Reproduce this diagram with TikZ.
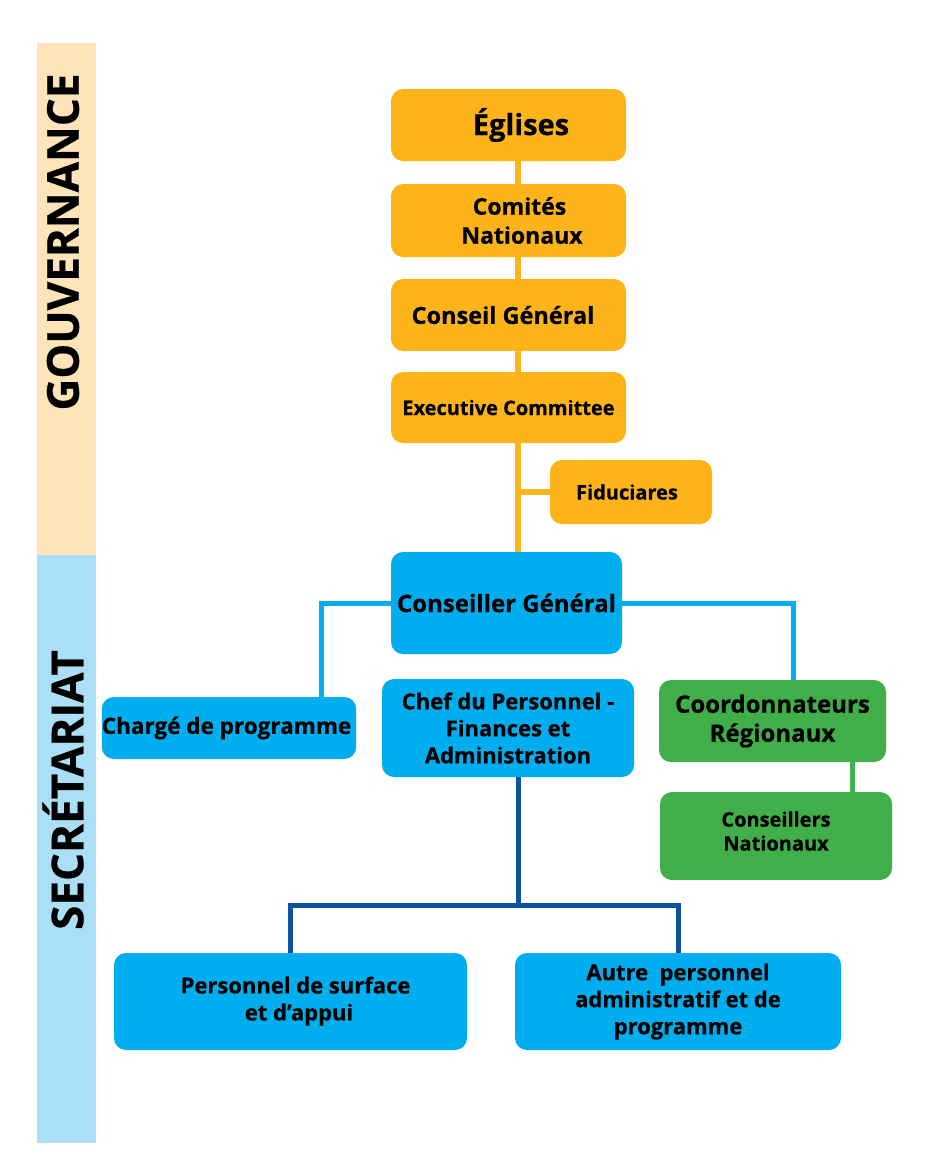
\documentclass[tikz,border=0pt]{standalone}
\usepackage{fontspec}
\setmainfont{Open Sans}[BoldFeatures={FakeBold=0.6}]
\usetikzlibrary{positioning}

\definecolor{govgold}{RGB}{253,180,26}
\definecolor{seccyan}{RGB}{0,174,239}
\definecolor{reggreen}{RGB}{64,174,73}
\definecolor{staffnavy}{RGB}{13,81,161}
\definecolor{govband}{RGB}{255,228,186}
\definecolor{secband}{RGB}{171,223,245}

\newcommand\fsz[2]{\fontsize{#1}{#2}\selectfont\bfseries}

\tikzset{
  unit/.style={rectangle, rounded corners=12pt, inner sep=0pt, align=center,
    font=\bfseries, text=black},
  govbox/.style={unit, fill=govgold},
  secbox/.style={unit, fill=seccyan},
  regbox/.style={unit, fill=reggreen},
  bandlabel/.style={rotate=90, font=\fsz{44}{44}},
  govline/.style={govgold, line width=6pt},
  secline/.style={seccyan, line width=5pt},
  regline/.style={reggreen, line width=5pt},
  staffline/.style={staffnavy, line width=5pt},
}

\begin{document}
\begin{tikzpicture}[x=1pt, y=-1pt]
    \useasboundingbox (0,0) rectangle (930,1168);

    % Bandes laterales
    \fill[govband] (37,43) rectangle (96,555);
    \fill[secband] (37,555) rectangle (96,1143);
    \node[bandlabel] (gouv) at (63,242) {GOUVERNANCE};
    \node[bandlabel] (secr) at (63,790) {SECRÉTARIAT};

    % Gouvernance
    \node[govbox, minimum width=235pt, minimum height=72pt, font=\fsz{29}{32}]
      (eglises) at (508.5,125) {\hspace*{25pt}Églises};
    \node[govbox, minimum width=235pt, minimum height=73pt, font=\fsz{23}{29}]
      (comites) at (508.5,220.5) {\hspace*{22pt}Comités\\\hspace*{27pt}Nationaux};
    \node[govbox, minimum width=235pt, minimum height=72pt, font=\fsz{23.5}{26}]
      (conseil) at (508.5,315) {Conseil Général\hspace*{11pt}};
    \node[govbox, minimum width=235pt, minimum height=71pt, font=\fsz{20}{22}]
      (exec) at (508.5,407.5) {Executive Committee};
    \node[govbox, minimum width=162pt, minimum height=64pt, font=\fsz{20}{22}]
      (fid) at (631,492) {Fiduciares\hspace*{8pt}};

    % Secretariat
    \node[secbox, minimum width=231pt, minimum height=102pt, font=\fsz{24}{26}]
      (cgen) at (506.5,603) {Conseiller Général};
    \node[secbox, minimum width=254pt, minimum height=62pt, font=\fsz{22.5}{25}]
      (charge) at (229,728) {Chargé de programme\hspace*{5pt}};
    \node[secbox, minimum width=252pt, minimum height=98pt, font=\fsz{22}{27}]
      (chef) at (508,728) {Chef du Personnel -\\Finances et\\Administration};
    \node[regbox, minimum width=227pt, minimum height=82pt, font=\fsz{24}{29}]
      (coord) at (772.5,721) {Coordonnateurs\\Régionaux};
    \node[regbox, minimum width=232pt, minimum height=88pt, text depth=10pt, font=\fsz{20}{24}]
      (consnat) at (776,836) {Conseillers\\Nationaux};
    \node[secbox, minimum width=353pt, minimum height=97pt, text depth=6pt, font=\fsz{22}{27}]
      (surface) at (290.5,1001.5) {\hspace*{10pt}Personnel de surface\\\hspace*{17pt}et d’appui};
    \node[secbox, minimum width=326pt, minimum height=97pt, font=\fsz{22}{27}]
      (autre) at (678,1001.5) {Autre\ \ personnel\\administratif et de\\programme};

    % Liaisons
    \coordinate (spine) at (518,0);
    \coordinate (split) at (518,905);
    \draw[govline] (eglises.south -| spine) -- (comites.north -| spine);
    \draw[govline] (comites.south -| spine) -- (conseil.north -| spine);
    \draw[govline] (conseil.south -| spine) -- (exec.north -| spine);
    \draw[govline] (exec.south -| spine) -- (cgen.north -| spine);
    \draw[govline] (fid.west) -- (fid.west -| spine);

    \draw[secline] (cgen.west) -| ([xshift=92pt]charge.north);
    \draw[secline] (cgen.east) -| ([xshift=20.5pt]coord.north);
    \draw[regline] ([xshift=79.5pt]coord.south) -- ([xshift=79.5pt]coord.south |- consnat.north);

    \draw[staffline] (chef.south -| spine) -- (split);
    \draw[staffline] (surface.north) |- (split) -| (autre.north);
  \end{tikzpicture}
\end{document}
